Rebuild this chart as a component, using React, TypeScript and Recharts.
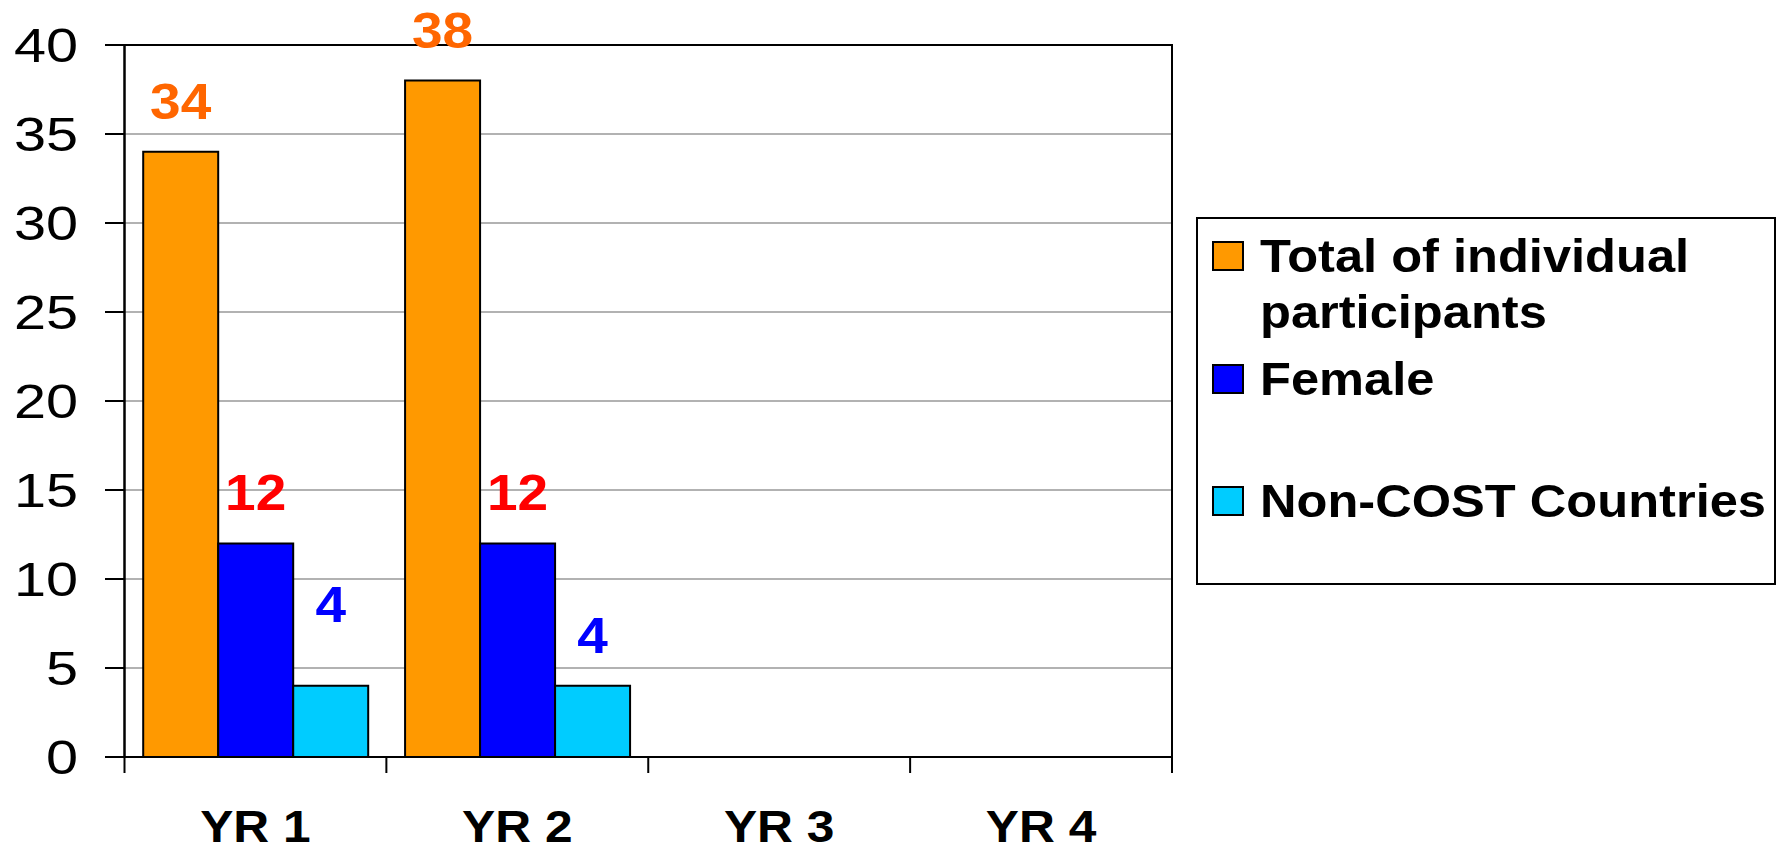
import { BarChart, Bar, XAxis, YAxis, CartesianGrid, ReferenceArea, LabelList, Legend } from "recharts";

const years = ["YR 1", "YR 2", "YR 3", "YR 4"];
const totalParticipants = [34, 38, null, null];
const female = [12, 12, null, null];
const nonCost = [4, 4, null, null];
const yTicks = [0, 5, 10, 15, 20, 25, 30, 35, 40];

// the YR 1 "4" label sits higher than the others in the original
const nonCostLabelLift = [31, 0, 0, 0];

const FONT = "'Liberation Sans', Arial, Helvetica, sans-serif";

const SERIES = [
  { key: "total", name: "Total of individual participants", fill: "#FF9900", labelColor: "#FF6600" },
  { key: "female", name: "Female", fill: "#0000FF", labelColor: "#FF0000" },
  { key: "nonCost", name: "Non-COST Countries", fill: "#00CCFF", labelColor: "#0000FF" },
];

const data = years.map((year, i) => ({
  year,
  total: totalParticipants[i],
  female: female[i],
  nonCost: nonCost[i],
}));

function YTick(props: any) {
  const { x, y, payload } = props;
  return (
    <text
      transform={`translate(${x},${y}) scale(1.2,1)`}
      dy="0.36em"
      textAnchor="end"
      fontFamily={FONT}
      fontSize={48}
      fill="#000"
    >
      {payload.value}
    </text>
  );
}

// category label plus the tick marks on the category boundaries
function XTick(props: any) {
  const { x, y, payload, index, visibleTicksCount } = props;
  const half = payload.offset || 0;
  const isLast = visibleTicksCount ? index === visibleTicksCount - 1 : payload.value === years[years.length - 1];
  return (
    <g>
      {half > 0 && <line x1={x - half} x2={x - half} y1={y} y2={y + 16} stroke="#000" strokeWidth={2} />}
      {half > 0 && isLast && <line x1={x + half} x2={x + half} y1={y} y2={y + 16} stroke="#000" strokeWidth={2} />}
      <text
        transform={`translate(${x},${y + 53}) scale(1.13,1)`}
        dy={31.5}
        textAnchor="middle"
        fontFamily={FONT}
        fontSize={44}
        fontWeight="bold"
        fill="#000"
      >
        {payload.value}
      </text>
    </g>
  );
}

function makeLabel(color: string, lift?: number[]) {
  return (props: any) => {
    const { x, y, width, value, index } = props;
    if (value == null) return null;
    const extra = lift ? lift[index] || 0 : 0;
    return (
      <text
        transform={`translate(${x + width / 2},${y - 33 - extra}) scale(1.1,1)`}
        textAnchor="middle"
        fontFamily={FONT}
        fontSize={50}
        fontWeight="bold"
        fill={color}
      >
        {value}
      </text>
    );
  };
}

const legendRowTops = [9, 132, 254];

function LegendBox() {
  return (
    <div
      style={{
        position: "relative",
        width: 580,
        height: 368,
        boxSizing: "border-box",
        border: "2px solid #000",
        background: "#fff",
        fontFamily: FONT,
        fontWeight: "bold",
        fontSize: 46,
        lineHeight: "56px",
        color: "#000",
      }}
    >
      {SERIES.map((s, i) => (
        <div
          key={s.key}
          style={{ position: "absolute", left: 14, top: legendRowTops[i], display: "flex", alignItems: "flex-start" }}
        >
          <div
            style={{
              width: 32,
              height: 30,
              marginTop: 13,
              boxSizing: "border-box",
              border: "2px solid #000",
              background: s.fill,
              flex: "none",
            }}
          />
          <div style={{ marginLeft: 16, width: 480, transform: "scaleX(1.1)", transformOrigin: "left" }}>
            {s.name}
          </div>
        </div>
      ))}
    </div>
  );
}

export default function App() {
  return (
    <div style={{ position: "absolute", left: 0, top: 0 }}>
      <BarChart
        width={1782}
        height={849}
        data={data}
        margin={{ top: 45, right: 610, bottom: 0, left: 0 }}
        barCategoryGap={18.7}
        barGap={0}
      >
        <CartesianGrid vertical={false} stroke="#999" strokeWidth={1.5} />
        <XAxis
          dataKey="year"
          height={92}
          axisLine={{ stroke: "#000", strokeWidth: 2 }}
          tickLine={false}
          tickSize={0}
          tickMargin={0}
          tick={<XTick />}
          interval={0}
        />
        <YAxis
          domain={[0, 40]}
          ticks={yTicks}
          interval={0}
          width={124.5}
          tickSize={19.5}
          tickMargin={27}
          tick={<YTick />}
          tickLine={{ stroke: "#000", strokeWidth: 2 }}
          axisLine={{ stroke: "#000", strokeWidth: 2 }}
        />
        <ReferenceArea y1={0} y2={40} fill="none" stroke="#000" strokeWidth={2} ifOverflow="visible" />
        <Legend
          layout="horizontal"
          align="center"
          verticalAlign="middle"
          content={<LegendBox />}
          wrapperStyle={{ left: 1196, top: 217, width: 580, height: 368 }}
        />
        {SERIES.map((s) => (
          <Bar
            key={s.key}
            dataKey={s.key}
            name={s.name}
            fill={s.fill}
            stroke="#000"
            strokeWidth={2}
            isAnimationActive={false}
          >
            <LabelList
              dataKey={s.key}
              content={makeLabel(s.labelColor, s.key === "nonCost" ? nonCostLabelLift : undefined)}
            />
          </Bar>
        ))}
      </BarChart>
    </div>
  );
}
